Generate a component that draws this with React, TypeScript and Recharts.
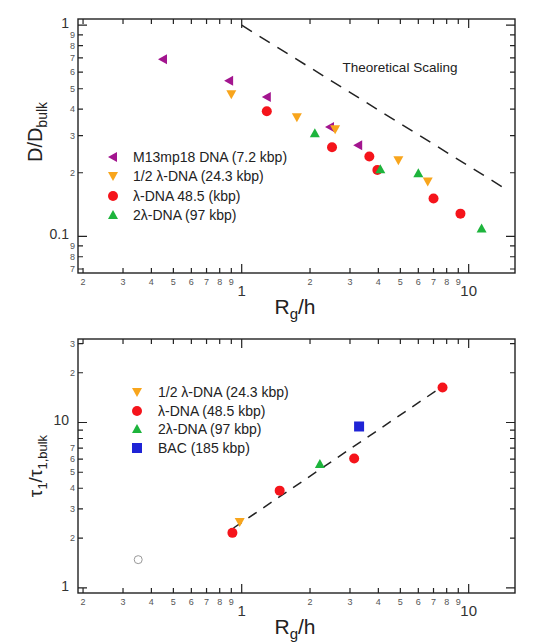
import React from "react";
import * as RC from "recharts";
import { ScatterChart, Scatter, XAxis, YAxis, Legend, Customized } from "recharts";

const FONT = "'Liberation Sans', Arial, Helvetica, sans-serif";
const INK = "#222";

// ---- shared x axis (Rg/h, log)
const xDomain = [0.19, 16];
const xTicks = [0.2, 0.3, 0.4, 0.5, 0.6, 0.7, 0.8, 0.9, 1, 2, 3, 4, 5, 6, 7, 8, 9, 10];
const xTickLabels = ["2", "3", "4", "5", "6", "7", "8", "9", "1", "2", "3", "4", "5", "6", "7", "8", "9", "10"];
const xMajor = [1, 10];

// ---- top panel: D/Dbulk
const dDomain = [0.067, 1.07];
const dTicks = [0.07, 0.08, 0.09, 0.1, 0.2, 0.3, 0.4, 0.5, 0.6, 0.7, 0.8, 0.9, 1];
const dTickLabels = ["7", "8", "9", "0.1", "2", "3", "4", "5", "6", "7", "8", "9", "1"];
const dMajor = [0.1, 1];

const m13X = [0.45, 0.88, 1.29, 2.45, 3.26];
const m13Y = [0.69, 0.545, 0.457, 0.329, 0.27];
const halfX = [0.9, 1.75, 2.58, 4.9, 6.6];
const halfY = [0.471, 0.366, 0.321, 0.229, 0.182];
const lamX = [1.29, 2.5, 3.65, 3.96, 7.0, 9.2];
const lamY = [0.391, 0.264, 0.239, 0.206, 0.151, 0.128];
const twoX = [2.1, 4.08, 6.0, 11.4];
const twoY = [0.308, 0.208, 0.199, 0.109];
const theoryX = [1, 14.5];
const theoryY = [1, 0.168];

// ---- bottom panel: tau1/tau1,bulk
const tDomain = [0.93, 32];
const tTicks = [1, 2, 3, 4, 5, 6, 7, 8, 9, 10, 20, 30];
const tTickLabels = ["1", "2", "3", "4", "5", "6", "7", "", "", "10", "2", "3"];
const tMajor = [1, 10];

const halfX2 = [0.98];
const halfY2 = [2.5];
const lamX2 = [0.91, 1.47, 3.13, 7.67];
const lamY2 = [2.15, 3.87, 6.05, 16.3];
const twoX2 = [2.21];
const twoY2 = [5.6];
const bacX = [3.29];
const bacY = [9.46];
const ghostX = [0.35];
const ghostY = [1.48];
const fitX = [0.92, 7.8];
const fitY = [2.3, 16.8];

const C = {
  m13: "#a3158f",
  half: "#f8a51c",
  lam: "#f5141b",
  two: "#1db43c",
  bac: "#1f24d6",
};

const zip = (xs: number[], ys: number[]) => xs.map((x, i) => ({ x, y: ys[i] }));

// ---- marker shapes
const Marker = ({ kind, cx, cy, color }: any) => {
  if (kind === "left")
    return <polygon points={`${cx - 5},${cy} ${cx + 4},${cy - 5} ${cx + 4},${cy + 5}`} fill={color} />;
  if (kind === "down")
    return <polygon points={`${cx - 5},${cy - 4} ${cx + 5},${cy - 4} ${cx},${cy + 5}`} fill={color} />;
  if (kind === "up")
    return <polygon points={`${cx - 5},${cy + 4} ${cx + 5},${cy + 4} ${cx},${cy - 5}`} fill={color} />;
  if (kind === "square") return <rect x={cx - 5} y={cy - 5} width={10} height={10} fill={color} />;
  if (kind === "open") return <circle cx={cx} cy={cy} r={4} fill="none" stroke="#999" strokeWidth={1} />;
  return <circle cx={cx} cy={cy} r={5} fill={color} />;
};
const shape = (kind: string, color: string) => (p: any) => <Marker kind={kind} cx={p.cx} cy={p.cy} color={color} />;
const noShape = () => <g />;

// ---- tick labels (mixed sizes like the original)
const idx = (ticks: number[], v: number) => ticks.findIndex((t) => Math.abs(t - v) < 1e-9);

const xLabel = (props: any) => {
  const x = Number(props.x);
  const y = Number(props.y);
  const v = props.payload.value;
  const major = xMajor.includes(v);
  return (
    <text x={x} y={major ? y + 23 : y + 12} textAnchor="middle" fontFamily={FONT}
      fontSize={major ? 15 : 9} fill={major ? "#333" : "#555"}>
      {xTickLabels[idx(xTicks, v)]}
    </text>
  );
};

const yLabel = (ticks: number[], labels: string[], majors: number[]) => (props: any) => {
  const x = Number(props.x);
  const y = Number(props.y);
  const v = props.payload.value;
  const major = majors.includes(v);
  return (
    <text x={major ? x - 9 : x - 3} y={y + 3} textAnchor="end" fontFamily={FONT}
      fontSize={major ? 14 : 9} fill={major ? "#333" : "#555"}>
      {labels[idx(ticks, v)]}
    </text>
  );
};

// ---- box with inward ticks on all four sides (log mapping of the axis domains)
const usePlot = (RC as any)["usePlotArea"] as undefined | (() => any);
const BoxTicks = ({ yDomain, yTicks, yMajor }: any) => {
  const area = usePlot ? usePlot() : null;
  const L = area?.x ?? 78;
  const T = area?.y ?? 19;
  const W = area?.width ?? 437;
  const H = area?.height ?? 254;
  const sx = (v: number) => L + (Math.log(v / xDomain[0]) / Math.log(xDomain[1] / xDomain[0])) * W;
  const sy = (v: number) => T + H - (Math.log(v / yDomain[0]) / Math.log(yDomain[1] / yDomain[0])) * H;
  const lenX = (v: number) => (xMajor.includes(v) ? 9 : 5);
  const lenY = (v: number) => (yMajor.includes(v) ? 9 : 5);
  let d = "";
  xTicks.forEach((v) => {
    const x = sx(v);
    d += `M${x},${T + H}v${-lenX(v)}M${x},${T}v${lenX(v)}`;
  });
  yTicks.forEach((v) => {
    const y = sy(v);
    d += `M${L},${y}h${lenY(v)}M${L + W},${y}h${-lenY(v)}`;
  });
  return (
    <g>
      <rect x={L} y={T} width={W} height={H} fill="none" stroke={INK} strokeWidth={1.4} />
      <path d={d} stroke={INK} strokeWidth={1.2} fill="none" />
    </g>
  );
};

// ---- legend
type Entry = { name: string; color: string; kind: string };
const topLegend: Entry[] = [
  { name: "M13mp18 DNA (7.2 kbp)", color: C.m13, kind: "left" },
  { name: "1/2 \u03bb-DNA (24.3 kbp)", color: C.half, kind: "down" },
  { name: "\u03bb-DNA 48.5 (kbp)", color: C.lam, kind: "circle" },
  { name: "2\u03bb-DNA (97 kbp)", color: C.two, kind: "up" },
];
const bottomLegend: Entry[] = [
  { name: "1/2 \u03bb-DNA (24.3 kbp)", color: C.half, kind: "down" },
  { name: "\u03bb-DNA (48.5 kbp)", color: C.lam, kind: "circle" },
  { name: "2\u03bb-DNA (97 kbp)", color: C.two, kind: "up" },
  { name: "BAC (185 kbp)", color: C.bac, kind: "square" },
];

const LegendBox = ({ entries, rowH, gap }: { entries: Entry[]; rowH: number; gap: number }) => (
  <div style={{ fontFamily: FONT, fontSize: 14, color: "#222" }}>
    {entries.map((e) => (
      <div key={e.name} style={{ display: "flex", alignItems: "center", height: rowH, whiteSpace: "nowrap" }}>
        <svg width={20} height={14} style={{ flex: "none" }}>
          <Marker kind={e.kind} cx={10} cy={7} color={e.color} />
        </svg>
        <span style={{ marginLeft: gap }}>{e.name}</span>
      </div>
    ))}
  </div>
);

// ---- titles, drawn last together with the box
const TopTexts = () => (
  <g fontFamily={FONT} fill="#222">
    <BoxTicks yDomain={dDomain} yTicks={dTicks} yMajor={dMajor} />
    <text x={400} y={72} fontSize={13.5} textAnchor="middle">Theoretical Scaling</text>
    <text transform="translate(42,132) rotate(-90)" fontSize={20} textAnchor="middle">
      D/D<tspan fontSize={14} dy={5}>bulk</tspan>
    </text>
    <text x={295} y={314} fontSize={21} textAnchor="middle">
      R<tspan fontSize={15} dy={5}>g</tspan><tspan dy={-5}>/h</tspan>
    </text>
  </g>
);

const BottomTexts = () => (
  <g fontFamily={FONT} fill="#222">
    <BoxTicks yDomain={tDomain} yTicks={tTicks} yMajor={tMajor} />
    <text transform="translate(42,146) rotate(-90)" fontSize={19} textAnchor="middle">
      {"\u03c4"}<tspan fontSize={13} dy={5}>1</tspan><tspan dy={-5}>/{"\u03c4"}</tspan>
      <tspan fontSize={13} dy={5}>1,bulk</tspan>
    </text>
    <text x={295} y={314} fontSize={21} textAnchor="middle">
      R<tspan fontSize={15} dy={5}>g</tspan><tspan dy={-5}>/h</tspan>
    </text>
  </g>
);

function axes(yDomain: number[], yTicks: number[], yTickLabels: string[], yMajor: number[], xAxisHeight: number) {
  return [
    <XAxis key="xa" xAxisId="b" dataKey="x" type="number" scale="log" domain={xDomain} ticks={xTicks}
      allowDataOverflow interval={0} height={xAxisHeight} axisLine={false} tickLine={false}
      tickSize={0} tickMargin={0} tick={xLabel} />,
    <YAxis key="ya" yAxisId="l" dataKey="y" type="number" scale="log" domain={yDomain} ticks={yTicks}
      allowDataOverflow interval={0} width={78} axisLine={false} tickLine={false}
      tickSize={0} tickMargin={0} tick={yLabel(yTicks, yTickLabels, yMajor)} />,
  ];
}

export default function App() {
  return (
    <div style={{ position: "absolute", left: 0, top: 0, width: 539, height: 644, background: "#fff" }}>
      <div style={{ position: "absolute", left: 0, top: 0 }}>
        <ScatterChart width={539} height={326} margin={{ top: 19, right: 24, bottom: 6, left: 0 }}>
          {axes(dDomain, dTicks, dTickLabels, dMajor, 47)}
          <Scatter xAxisId="b" yAxisId="l" data={zip(theoryX, theoryY)} shape={noShape} isAnimationActive={false}
            line={{ stroke: INK, strokeWidth: 1.5, strokeDasharray: "12 9" }} legendType="none" />
          <Scatter xAxisId="b" yAxisId="l" data={zip(m13X, m13Y)} shape={shape("left", C.m13)} isAnimationActive={false} />
          <Scatter xAxisId="b" yAxisId="l" data={zip(halfX, halfY)} shape={shape("down", C.half)} isAnimationActive={false} />
          <Scatter xAxisId="b" yAxisId="l" data={zip(lamX, lamY)} shape={shape("circle", C.lam)} isAnimationActive={false} />
          <Scatter xAxisId="b" yAxisId="l" data={zip(twoX, twoY)} shape={shape("up", C.two)} isAnimationActive={false} />
          <Legend layout="vertical" align="center" verticalAlign="middle"
            wrapperStyle={{ left: 103, top: 147, width: "auto" }}
            content={() => <LegendBox entries={topLegend} rowH={19.5} gap={10} />} />
          <Customized component={<TopTexts />} />
        </ScatterChart>
      </div>
      <div style={{ position: "absolute", left: 0, top: 320 }}>
        <ScatterChart width={539} height={324} margin={{ top: 19, right: 24, bottom: 0, left: 0 }}>
          {axes(tDomain, tTicks, tTickLabels, tMajor, 51)}
          <Scatter xAxisId="b" yAxisId="l" data={zip(fitX, fitY)} shape={noShape} isAnimationActive={false}
            line={{ stroke: INK, strokeWidth: 1.5, strokeDasharray: "10 8" }} legendType="none" />
          <Scatter xAxisId="b" yAxisId="l" data={zip(ghostX, ghostY)} shape={shape("open", "#999")} isAnimationActive={false} />
          <Scatter xAxisId="b" yAxisId="l" data={zip(halfX2, halfY2)} shape={shape("down", C.half)} isAnimationActive={false} />
          <Scatter xAxisId="b" yAxisId="l" data={zip(lamX2, lamY2)} shape={shape("circle", C.lam)} isAnimationActive={false} />
          <Scatter xAxisId="b" yAxisId="l" data={zip(twoX2, twoY2)} shape={shape("up", C.two)} isAnimationActive={false} />
          <Scatter xAxisId="b" yAxisId="l" data={zip(bacX, bacY)} shape={shape("square", C.bac)} isAnimationActive={false} />
          <Legend layout="vertical" align="center" verticalAlign="middle"
            wrapperStyle={{ left: 127, top: 62.5, width: "auto" }}
            content={() => <LegendBox entries={bottomLegend} rowH={18.7} gap={11} />} />
          <Customized component={<BottomTexts />} />
        </ScatterChart>
      </div>
    </div>
  );
}
